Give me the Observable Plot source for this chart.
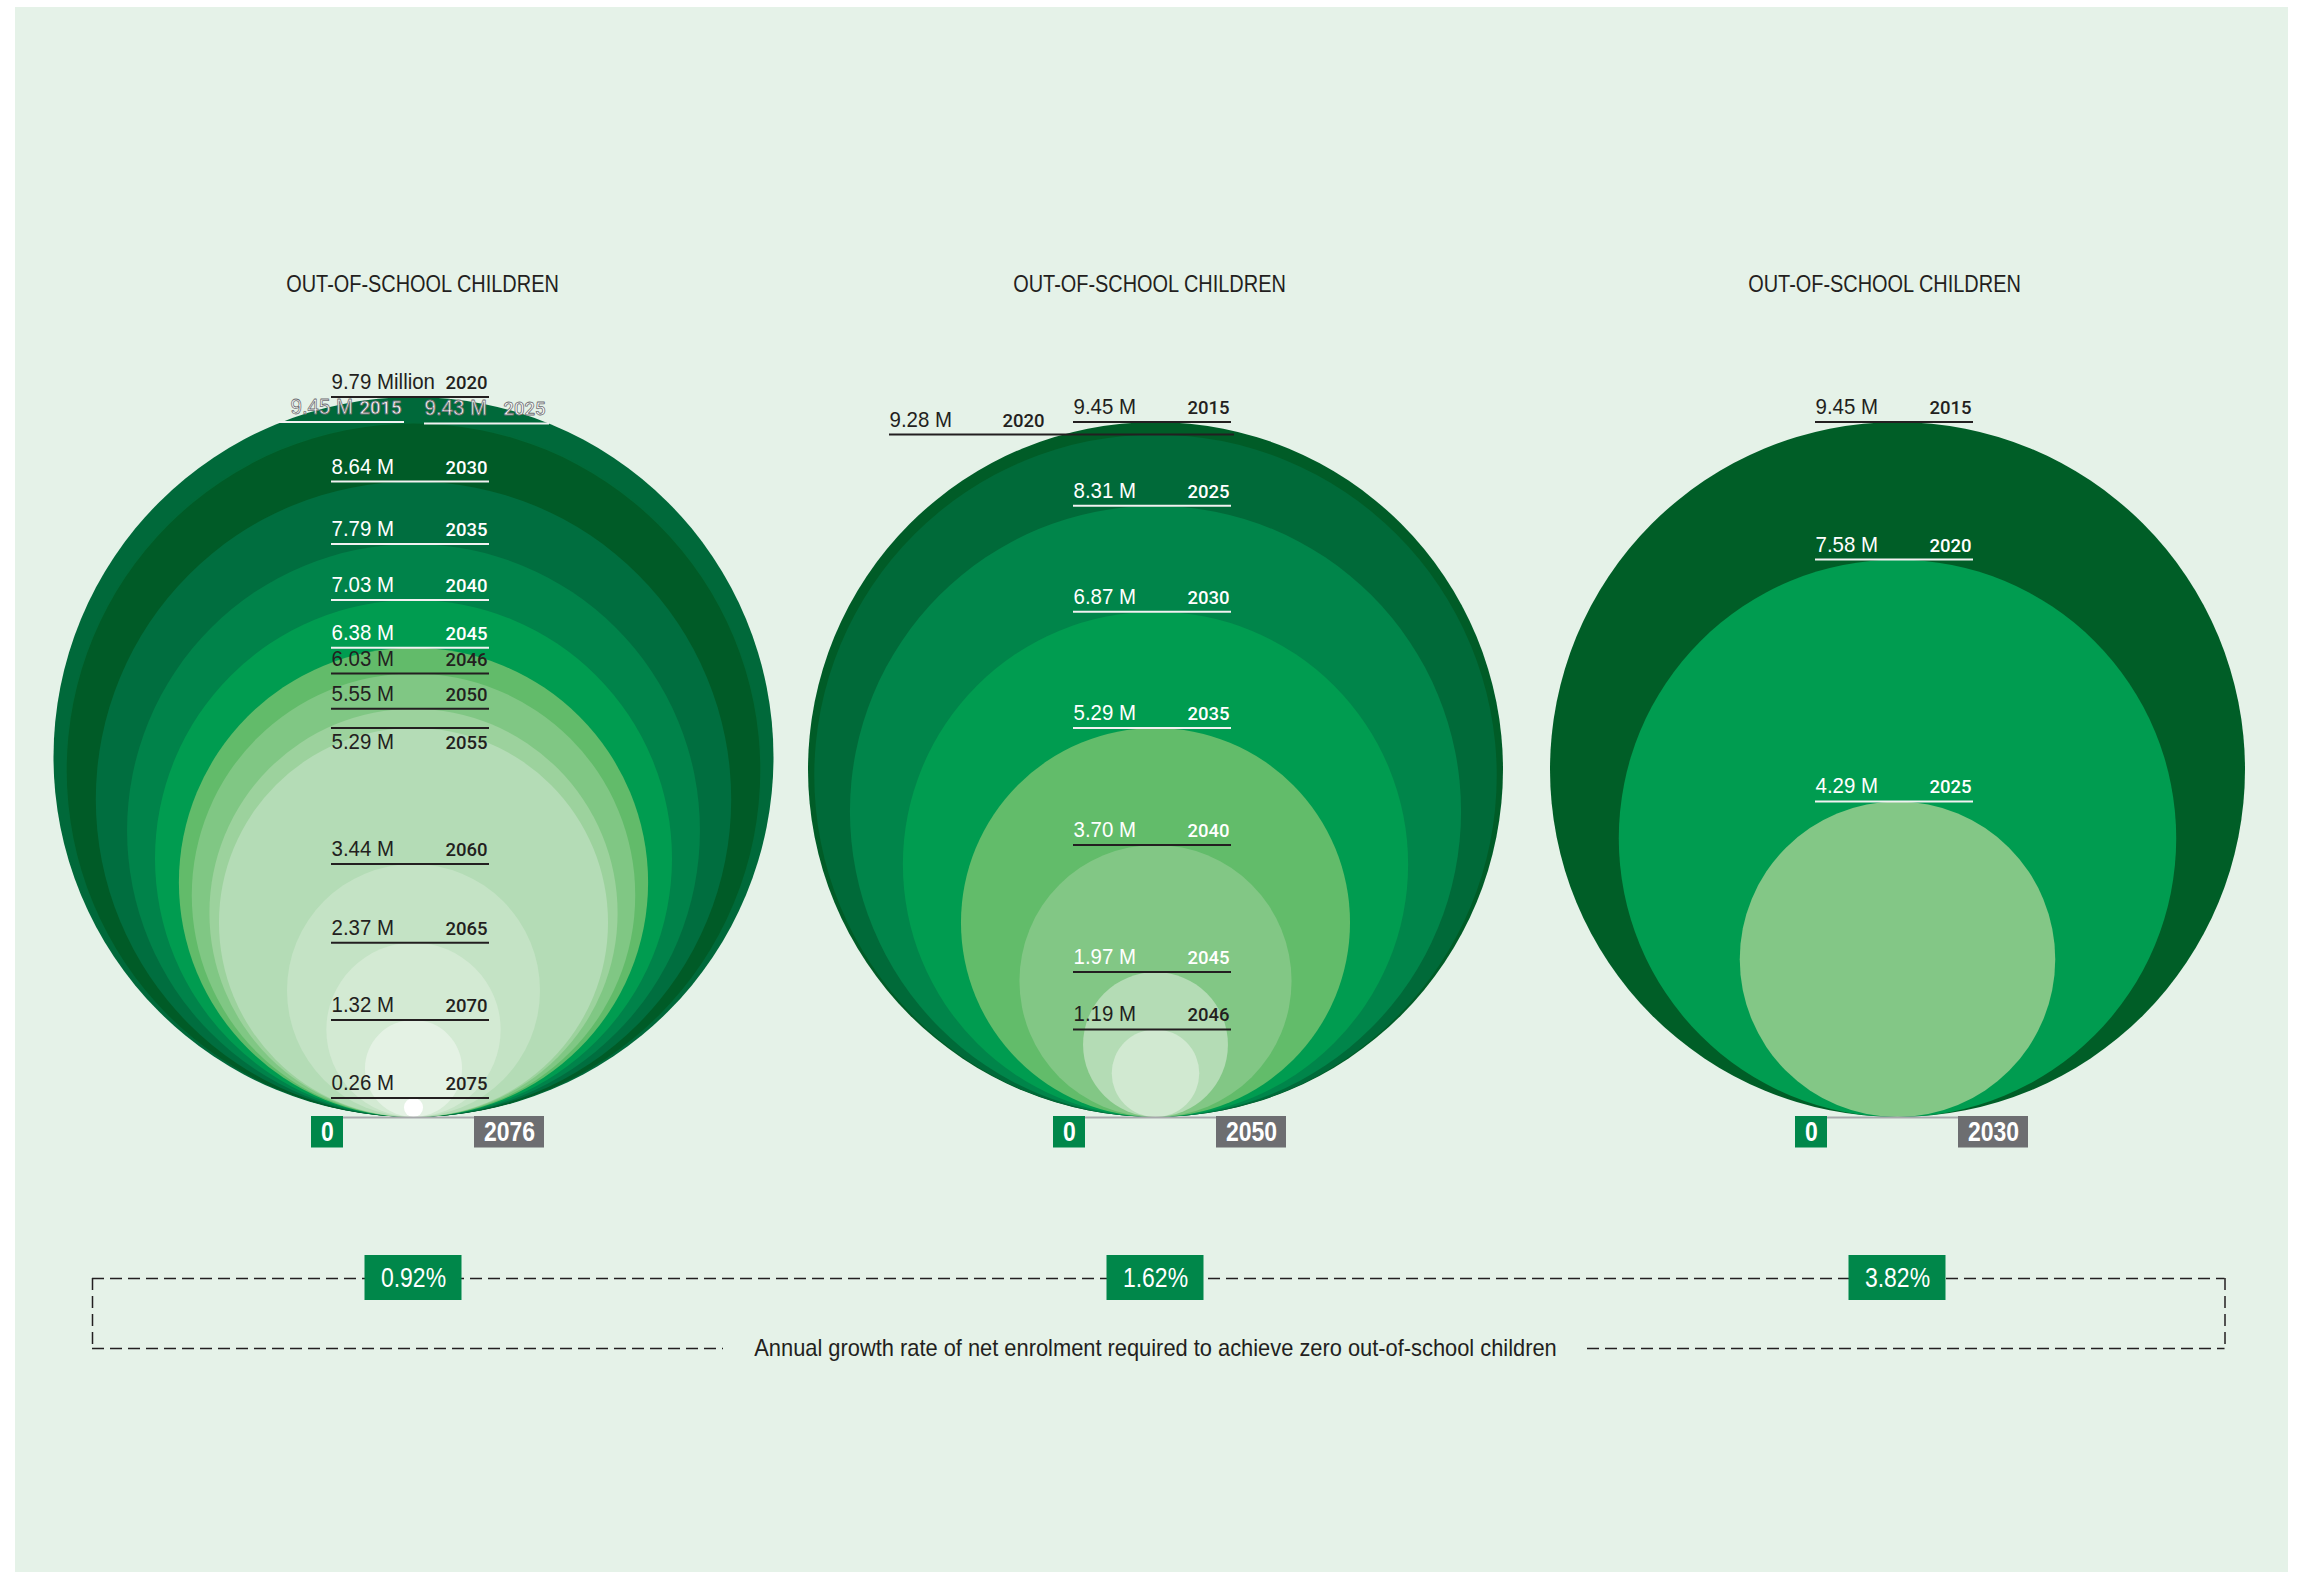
<!DOCTYPE html>
<html>
<head>
<meta charset="utf-8">
<script src="https://cdn.jsdelivr.net/npm/d3@7"></script>
<script src="https://cdn.jsdelivr.net/npm/@observablehq/plot@0.6"></script>
<style>
html, body { margin: 0; padding: 0; background: #ffffff; }
#chart { position: absolute; left: 15px; top: 7px; }
</style>
</head>
<body>
<div id="chart"></div>
<script>
// ---------------- DATA ----------------
const panelTitles = ["OUT-OF-SCHOOL CHILDREN", "OUT-OF-SCHOOL CHILDREN", "OUT-OF-SCHOOL CHILDREN"];
const zeroYears = [2076, 2050, 2030];
const growthRates = [0.92, 1.62, 3.82];
const caption = "Annual growth rate of net enrolment required to achieve zero out-of-school children";

// Panel A (0.92% growth)
const yearsA  = [2015, 2020, 2025, 2030, 2035, 2040, 2045, 2046, 2050, 2055, 2060, 2065, 2070, 2075];
const valuesA = [9.45, 9.79, 9.43, 8.64, 7.79, 7.03, 6.38, 6.03, 5.55, 5.29, 3.44, 2.37, 1.32, 0.26];
// Panel B (1.62% growth)
const yearsB  = [2015, 2020, 2025, 2030, 2035, 2040, 2045, 2046];
const valuesB = [9.45, 9.28, 8.31, 6.87, 5.29, 3.70, 1.97, 1.19];
// Panel C (3.82% growth)
const yearsC  = [2015, 2020, 2025];
const valuesC = [9.45, 7.58, 4.29];

// ---------------- STYLES ----------------
const fillsA = ["#006a39", "#00693a", "#005b27", "#006e3f", "#00834a", "#009c50", "#62bb6a", "#80c784", "#9cd29d", "#b4dcb6", "#c4e3c5", "#d3ead3", "#e4f2e4", "#ffffff"];
const fillsB = ["#005c27", "#006a39", "#00854a", "#009c50", "#62bc6a", "#82c785", "#b4dcb5", "#d1e9d1"];
const fillsC = ["#005e27", "#009c50", "#83c786"];
const inkA  = ["outline", "dark", "outline", "white", "white", "white", "white", "dark", "dark", "dark", "dark", "dark", "dark", "dark"];
const ruleA = ["white", "dark", "white", "white", "white", "white", "white", "dark", "dark", "dark", "dark", "dark", "dark", "dark"];
const inkB  = ["dark", "dark", "white", "white", "white", "white", "white", "dark"];
const ruleB = ["dark", "dark", "white", "white", "white", "dark", "dark", "dark"];
const inkC  = ["dark", "white", "white"];
const ruleC = ["dark", "white", "white"];

const DARK = "#231f20", WHITE = "#ffffff", BG = "#e5f2e8";
const GREEN = "#00874a", GREY = "#6d6e71";
// condensed look: Liberation Sans squeezed horizontally after render (factor per font stack)
const FONT_VAL = "Liberation Sans, sans-serif";
const FONT_TITLE = "Liberation Sans, Arial, sans-serif";
const FONT_CAP = "Liberation Sans, Helvetica, sans-serif";
const FONT_BOX = "Liberation Sans, Helvetica, Arial, sans-serif";
const SQUEEZE = {[FONT_VAL]: 0.93, [FONT_TITLE]: 0.83, [FONT_CAP]: 0.91, [FONT_BOX]: 0.82};
const WIDEF = "Roboto, Liberation Sans, Arial, sans-serif";

// label placement (pixels relative to panel centre)
const defaultPlace = {x1: -82, x2: 76, tx: -82, yx: 74, below: false};
const placeOverrides = {
  "0:2015": {x1: -135, x2: -9, tx: -123, yx: -12},
  "0:2025": {x1: 11, x2: 136, tx: 11, yx: 132},
  "0:2055": {below: true},
  "1:2020": {x1: -266, x2: 79, tx: -266, yx: -111}
};
const titleShift = [9, -6, -13]; // px, title offset from panel centre

// ---------------- LAYOUT ----------------
const W = 2273, H = 1565;
const K = 360 / 9.79;           // pixels per million (radius)
const FIRST = 398, STEP = 742;  // panel centres in px
const BASE = 1109.5;            // px of common tangent point
const px = p => p / K;
const cx = i => (i * STEP) / K;

const panelsRaw = [
  {years: yearsA, values: valuesA, fills: fillsA, ink: inkA, rule: ruleA},
  {years: yearsB, values: valuesB, fills: fillsB, ink: inkB, rule: ruleB},
  {years: yearsC, values: valuesC, fills: fillsC, ink: inkC, rule: ruleC}
];
const inkColor = {dark: DARK, white: WHITE, outline: WHITE};
const circles = [];
panelsRaw.forEach((P, p) => {
  P.years.forEach((year, i) => {
    const place = Object.assign({}, defaultPlace, placeOverrides[p + ":" + year] || {});
    circles.push({
      p, year, v: P.values[i], fill: P.fills[i],
      ink: P.ink[i], rule: P.rule[i] === "dark" ? DARK : "#f2f2f2",
      place,
      label: P.values[i].toFixed(2) + (p === 0 && year === 2020 ? " Million" : " M")
    });
  });
});
const panels = zeroYears.map((z, i) => ({i, zero: z, rate: growthRates[i], title: panelTitles[i]}));

function labelMarks(data, ink, below) {
  const opts = ink === "outline"
    ? {fill: WHITE, stroke: "#6d6e71", strokeWidth: 0.8, paintOrder: "normal"}
    : {fill: inkColor[ink]};
  const d = data.filter(c => c.ink === ink && !!c.place.below === below);
  const dy = below ? 21 : -8;
  return [
    Plot.text(d, {x: c => cx(c.p) + px(c.place.tx), y: c => 2 * c.v, text: "label",
      textAnchor: "start", lineAnchor: "bottom", dy, fontSize: 22, fontFamily: FONT_VAL, ...opts}),
    Plot.text(d, {x: c => cx(c.p) + px(c.place.yx), y: c => 2 * c.v, text: c => String(c.year),
      textAnchor: "end", lineAnchor: "bottom", dy, fontSize: 18.5, fontWeight: 500, fontFamily: WIDEF, ...opts})
  ];
}

const bracketTop = -px(161.5), bracketBottom = -px(231.5);
const bracketLeft = cx(0) - px(321), bracketRight = cx(2) + px(327.5);
const dash = {stroke: DARK, strokeWidth: 1.5, strokeDasharray: "12,6"};

const chart = Plot.plot({
  width: W, height: H,
  marginTop: 0, marginRight: 0, marginBottom: 0, marginLeft: 0,
  x: {domain: [-FIRST / K, (W - FIRST) / K], range: [0, W], axis: null},
  y: {domain: [(BASE - H) / K, BASE / K], range: [H, 0], axis: null},
  r: {type: "linear", domain: [0, 1], range: [0, K]},
  color: {type: "identity"},
  style: {background: BG, overflow: "visible"},
  marks: [
    // nested circles, all tangent at the bottom
    Plot.dot(circles, {x: d => cx(d.p), y: "v", r: "v", fill: "fill"}),
    // label rules
    Plot.ruleY(circles, {y: d => 2 * d.v, x1: d => cx(d.p) + px(d.place.x1), x2: d => cx(d.p) + px(d.place.x2),
      stroke: "rule", strokeWidth: 2}),
    ...labelMarks(circles, "dark", false),
    ...labelMarks(circles, "dark", true),
    ...labelMarks(circles, "white", false),
    ...labelMarks(circles, "outline", false),
    // titles
    Plot.text(panels, {x: d => cx(d.i) + px(titleShift[d.i]), y: px(833), text: "title", fontSize: 24, fontFamily: FONT_TITLE, fill: DARK}),
    // baseline connector and 0 / year boxes
    Plot.ruleY(panels, {y: -px(0.5), x1: d => cx(d.i) - px(70), x2: d => cx(d.i) + px(62), stroke: "#a7a9ac", strokeWidth: 2}),
    Plot.rect(panels, {x1: d => cx(d.i) - px(102), x2: d => cx(d.i) - px(70), y1: px(0.5), y2: -px(31), fill: GREEN}),
    Plot.rect(panels, {x1: d => cx(d.i) + px(61), x2: d => cx(d.i) + px(131), y1: px(0.5), y2: -px(31), fill: GREY}),
    Plot.text(panels, {x: d => cx(d.i) - px(86), y: -px(15.5), text: () => "0", fill: WHITE, fontSize: 28, fontWeight: "bold", fontFamily: FONT_BOX}),
    Plot.text(panels, {x: d => cx(d.i) + px(96), y: -px(15.5), text: d => String(d.zero), fill: WHITE, fontSize: 28, fontWeight: "bold", fontFamily: FONT_BOX}),
    // dashed bracket
    Plot.ruleY([bracketTop], {x1: bracketLeft, x2: bracketRight, ...dash}),
    Plot.ruleY([bracketBottom], {x1: bracketLeft, x2: cx(1) - px(432), ...dash}),
    Plot.ruleY([bracketBottom], {x1: cx(1) + px(432), x2: bracketRight, ...dash}),
    Plot.ruleX([bracketLeft, bracketRight], {y1: bracketTop, y2: bracketBottom, ...dash}),
    Plot.text([caption], {x: cx(1), y: bracketBottom, text: d => d, fontSize: 24, fontFamily: FONT_CAP, fill: DARK}),
    // growth-rate boxes
    Plot.rect(panels, {x1: d => cx(d.i) - px(48.5), x2: d => cx(d.i) + px(48.5), y1: -px(138.5), y2: -px(183.5), fill: GREEN}),
    Plot.text(panels, {x: d => cx(d.i), y: -px(161), text: d => d.rate.toFixed(2) + "%", fill: WHITE, fontSize: 28, fontFamily: FONT_BOX})
  ]
});
document.getElementById("chart").appendChild(chart);

// emulate a condensed typeface: squeeze glyphs horizontally
chart.querySelectorAll("g").forEach(g => {
  const f = SQUEEZE[g.getAttribute("font-family")];
  if (!f) return;
  g.querySelectorAll("text").forEach(t => {
    const targets = t.querySelectorAll("tspan").length ? t.querySelectorAll("tspan") : [t];
    targets.forEach(el => {
      const len = el.getComputedTextLength();
      if (len > 0) {
        el.setAttribute("textLength", (len * f).toFixed(2));
        el.setAttribute("lengthAdjust", "spacingAndGlyphs");
      }
    });
  });
});
</script>
</body>
</html>
